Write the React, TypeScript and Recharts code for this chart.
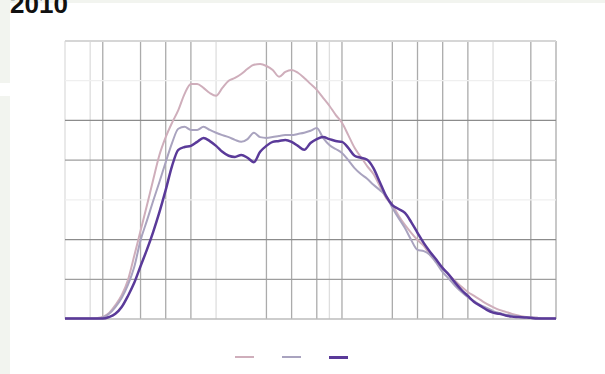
import React from 'react';
import { LineChart, Line, XAxis, YAxis, CartesianGrid } from 'recharts';

// x positions, in grid steps (39 steps across the plot)
const xSteps = [
  0, 0.5, 1, 1.5, 2, 2.5, 3, 3.5, 4, 4.5, 5, 5.5, 6, 6.5, 7, 7.5, 8, 8.5, 9, 9.5,
  10, 10.5, 11, 11.5, 12, 12.5, 13, 13.5, 14, 14.5, 15, 15.5, 16, 16.5, 17, 17.5, 18, 18.5, 19, 19.5,
  20, 20.5, 21, 21.5, 22, 22.5, 23, 23.5, 24, 24.5, 25, 25.5, 26, 26.5, 27, 27.5, 28, 28.5, 29, 29.5,
  30, 30.5, 31, 31.5, 32, 32.5, 33, 33.5, 34, 34.5, 35, 35.5, 36, 36.5, 37, 37.5, 38, 38.5, 39,
];

const roseValues = [
  0.01, 0.01, 0.01, 0.01, 0.01, 0.02, 0.05, 0.15, 0.35, 0.6, 0.98, 1.59, 2.22, 2.85, 3.5, 4.13, 4.58, 4.94, 5.26, 5.67,
  5.92, 5.92, 5.82, 5.69, 5.62, 5.82, 6.0, 6.07, 6.17, 6.3, 6.4, 6.42, 6.37, 6.27, 6.1, 6.22, 6.27, 6.2, 6.07, 5.92,
  5.77, 5.57, 5.37, 5.14, 4.94, 4.63, 4.31, 4.08, 3.85, 3.65, 3.35, 3.05, 2.87, 2.6, 2.37, 2.17, 1.99, 1.84, 1.61, 1.44,
  1.28, 1.11, 0.96, 0.81, 0.68, 0.58, 0.48, 0.38, 0.3, 0.23, 0.18, 0.13, 0.09, 0.06, 0.04, 0.03, 0.01, 0.01, 0.01,
];

const greyValues = [
  0.01, 0.01, 0.01, 0.01, 0.01, 0.01, 0.04, 0.13, 0.3, 0.53, 0.86, 1.31, 1.98, 2.47, 2.97, 3.45, 3.95, 4.43, 4.79, 4.84,
  4.76, 4.76, 4.84, 4.76, 4.69, 4.63, 4.58, 4.51, 4.46, 4.53, 4.69, 4.58, 4.56, 4.58, 4.61, 4.63, 4.63, 4.66, 4.69, 4.74,
  4.81, 4.56, 4.38, 4.28, 4.18, 4.0, 3.8, 3.65, 3.53, 3.38, 3.25, 3.1, 2.8, 2.54, 2.29, 1.99, 1.74, 1.71, 1.61, 1.41,
  1.18, 1.01, 0.83, 0.68, 0.55, 0.45, 0.35, 0.28, 0.2, 0.15, 0.11, 0.09, 0.06, 0.05, 0.04, 0.03, 0.01, 0.01, 0.01,
];

const purpleValues = [
  0.01, 0.01, 0.01, 0.01, 0.01, 0.01, 0.01, 0.05, 0.13, 0.3, 0.58, 0.91, 1.33, 1.74, 2.19, 2.69, 3.25, 3.85, 4.26, 4.33,
  4.36, 4.46, 4.56, 4.48, 4.36, 4.21, 4.11, 4.08, 4.13, 4.06, 3.95, 4.21, 4.36, 4.46, 4.48, 4.51, 4.46, 4.36, 4.26, 4.43,
  4.53, 4.58, 4.53, 4.48, 4.46, 4.31, 4.11, 4.06, 4.01, 3.8, 3.45, 3.1, 2.87, 2.77, 2.67, 2.44, 2.17, 1.91, 1.69, 1.49,
  1.28, 1.11, 0.91, 0.73, 0.58, 0.43, 0.33, 0.23, 0.16, 0.13, 0.09, 0.06, 0.05, 0.04, 0.03, 0.01, 0.01, 0.01, 0.01,
];

const darkVerticals = [3, 5, 6, 7, 8, 9, 10, 15, 16, 17, 18, 19, 20, 22, 25, 26, 27, 28, 29, 30, 31, 32, 36, 37, 38, 39];
const lightVerticals = [0, 2, 12, 21, 34];

const series = [
  { key: 'rose', color: '#cfaebb', width: 2 },
  { key: 'grey', color: '#a9a3bf', width: 2 },
  { key: 'purple', color: '#5a3a99', width: 2.5 },
];

const data = xSteps.map((x, i) => ({
  x,
  rose: roseValues[i],
  grey: greyValues[i],
  purple: purpleValues[i],
}));

export default function App() {
  return (
    <div style={{ position: 'absolute', left: 0, top: 0, width: 605, height: 374, background: '#f2f4ef', overflow: 'hidden' }}>
      <div style={{ position: 'absolute', left: 10, top: 3, right: 0, bottom: 0, background: '#fff' }} />
      <div style={{ position: 'absolute', left: 0, top: 83, width: 10, height: 13, background: '#fff' }} />
      <div
        style={{
          position: 'absolute',
          left: 10,
          top: -9,
          fontFamily: '"Liberation Sans", Arial, sans-serif',
          fontWeight: 'bold',
          fontSize: 26,
          lineHeight: '26px',
          color: '#111',
        }}
      >
        2010
      </div>
      <div style={{ position: 'absolute', left: 0, top: 0 }}>
        <LineChart width={605} height={374} data={data} margin={{ top: 41, right: 49, bottom: 55, left: 65 }}>
          <XAxis dataKey="x" type="number" domain={[0, 39]} hide />
          <YAxis type="number" domain={[0, 7]} hide />
          <CartesianGrid horizontal={false} verticalValues={lightVerticals} stroke="#dedede" strokeWidth={1.3} />
          <CartesianGrid horizontal={false} verticalValues={darkVerticals} stroke="#ababab" strokeWidth={1.3} />
          <CartesianGrid vertical={false} horizontalValues={[3, 6]} stroke="#efefef" strokeWidth={1.3} />
          <CartesianGrid vertical={false} horizontalValues={[7]} stroke="#d6d6d6" strokeWidth={2} />
          <CartesianGrid vertical={false} horizontalValues={[0]} stroke="#bdbdbd" strokeWidth={1.5} />
          <CartesianGrid vertical={false} horizontalValues={[1, 4]} stroke="#9e9e9e" strokeWidth={1.3} />
          <CartesianGrid vertical={false} horizontalValues={[2, 5]} stroke="#8c8c8c" strokeWidth={1.3} />
          {series.map((s) => (
            <Line
              key={s.key}
              type="monotone"
              dataKey={s.key}
              stroke={s.color}
              strokeWidth={s.width}
              dot={false}
              isAnimationActive={false}
            />
          ))}
        </LineChart>
      </div>
      <div style={{ position: 'absolute', left: 235, top: 356, display: 'flex', gap: 28 }}>
        {series.map((s) => (
          <div key={s.key} style={{ width: 19, height: s.width === 2 ? 2 : 3, background: s.color }} />
        ))}
      </div>
    </div>
  );
}
